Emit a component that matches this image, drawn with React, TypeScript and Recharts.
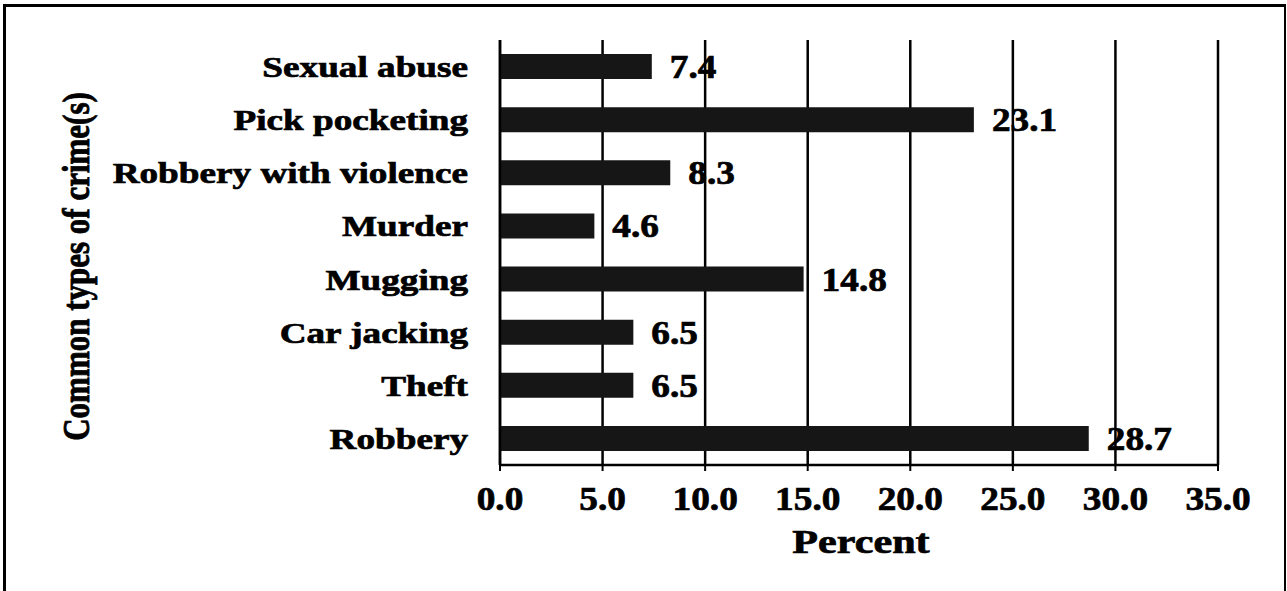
import React from 'react';
import { BarChart, Bar, XAxis, YAxis, CartesianGrid, LabelList } from 'recharts';

const categories = ['Sexual abuse', 'Pick pocketing', 'Robbery with violence', 'Murder', 'Mugging', 'Car jacking', 'Theft', 'Robbery'];
const percents = [7.4, 23.1, 8.3, 4.6, 14.8, 6.5, 6.5, 28.7];
const xTicks = [0, 5, 10, 15, 20, 25, 30, 35];

const data = categories.map((name, i) => ({ name, value: percents[i] }));

const FONT = '"Liberation Serif", "Times New Roman", serif';
// the scan is stretched sideways, so the text is too
const STRETCH = 1.24;
const NUM_STRETCH = 1.13;
const heavy = { stroke: '#000', strokeWidth: 0.7 };

const YTick = ({ x, y, payload }: any) => (
  <g transform={`translate(${x},${y}) scale(${STRETCH},1)`}>
    <text x={0} y={0} dy="0.35em" textAnchor="end" fontFamily={FONT} fontWeight="bold" fontSize={30} fill="#000" {...heavy}>
      {payload.value}
    </text>
  </g>
);

const XTick = ({ x, y, payload }: any) => (
  <g transform={`translate(${x},${y}) scale(${NUM_STRETCH},1)`}>
    <text x={0} y={0} dy={37} textAnchor="middle" fontFamily={FONT} fontWeight="bold" fontSize={33} fill="#000" {...heavy}>
      {Number(payload.value).toFixed(1)}
    </text>
  </g>
);

const ValueLabel = ({ x, y, width, height, value }: any) => (
  <g transform={`translate(${x + width + 18},${y + height / 2}) scale(${NUM_STRETCH},1)`}>
    <text x={0} y={0} dy="0.35em" textAnchor="start" fontFamily={FONT} fontWeight="bold" fontSize={33} fill="#000" {...heavy}>
      {Number(value).toFixed(1)}
    </text>
  </g>
);

const XTitle = ({ viewBox }: any) => (
  <g transform={`translate(${viewBox.x + viewBox.width / 2 + 2},${viewBox.y + 88}) scale(${STRETCH},1)`}>
    <text x={0} y={0} textAnchor="middle" fontFamily={FONT} fontWeight="bold" fontSize={34} fill="#000" {...heavy}>
      Percent
    </text>
  </g>
);

const YTitle = ({ viewBox }: any) => (
  <g transform={`translate(${viewBox.x + 76},${viewBox.y + viewBox.height / 2 + 14}) rotate(-90) scale(1,${STRETCH})`}>
    <text x={0} y={0} dy="0.35em" textAnchor="middle" fontFamily={FONT} fontWeight="bold" fontSize={31} fill="#000" {...heavy}>
      Common types of crime(s)
    </text>
  </g>
);

export default function App() {
  return (
    <div style={{ position: 'absolute', left: 0, top: 0, width: 1287, height: 591, overflow: 'hidden', background: '#fff' }}>
      <div
        style={{
          position: 'absolute',
          left: 3,
          top: 4,
          width: 1278,
          height: 620,
          borderTop: '3px solid #000',
          borderLeft: '3px solid #000',
          borderRight: '2px solid #000',
        }}
      />
      <BarChart
        width={1287}
        height={591}
        data={data}
        layout="vertical"
        margin={{ top: 40, right: 69, bottom: 46, left: 0 }}
        barCategoryGap={14}
      >
        <CartesianGrid horizontal={false} stroke="#000" strokeWidth={2.5} />
        <XAxis
          type="number"
          domain={[0, 35]}
          ticks={xTicks}
          interval={0}
          height={80}
          tick={<XTick />}
          tickSize={6}
          axisLine={{ stroke: '#000', strokeWidth: 2.5 }}
          tickLine={{ stroke: '#000', strokeWidth: 2 }}
          label={<XTitle />}
        />
        <YAxis
          type="category"
          dataKey="name"
          width={500}
          tick={<YTick />}
          tickLine={false}
          tickMargin={26}
          axisLine={{ stroke: '#000', strokeWidth: 2.5 }}
          label={<YTitle />}
        />
        <Bar dataKey="value" fill="#161616" barSize={25} isAnimationActive={false}>
          <LabelList dataKey="value" content={<ValueLabel />} />
        </Bar>
      </BarChart>
    </div>
  );
}
